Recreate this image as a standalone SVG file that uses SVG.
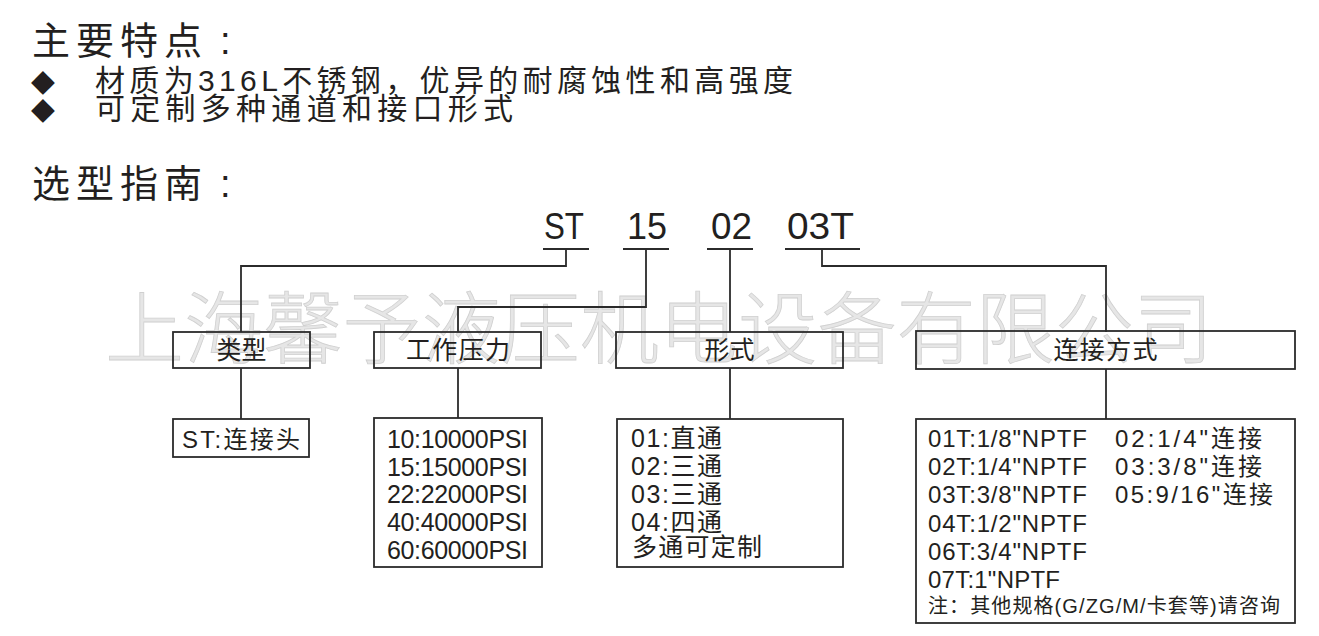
<svg xmlns="http://www.w3.org/2000/svg" width="1319" height="636" viewBox="0 0 1319 636">
<style>
  .t { font-family: "Liberation Sans", "Noto Sans CJK SC", sans-serif; fill: #231f20; }
  .title { font-size: 38px; letter-spacing: 6px; }
  .feat { font-size: 30px; }
  .code { font-size: 36px; }
  .lbl { font-size: 25px; text-anchor: middle; }
  .item { font-size: 25px; }
  .item24 { font-size: 24px; }
  .note { font-size: 20px; }
  .box { fill: none; stroke: #2b2b2b; stroke-width: 1.8; }
  .wire { fill: none; stroke: #2b2b2b; stroke-width: 1.8; }
  .wm { font-family: "Noto Sans CJK SC", sans-serif; font-weight: 300; font-size: 79px; fill: #e6e6e6; stroke: #d0d0d0; stroke-width: 0.8; }
  .bullet { font-family: "DejaVu Sans", sans-serif; font-size: 31px; fill: #231f20; }
</style>
<rect x="0" y="0" width="1319" height="636" fill="#ffffff"/>

<!-- watermark -->
<text id="watermark" class="wm" x="105" y="358" textLength="1108" lengthAdjust="spacing">上海馨予液压机电设备有限公司</text>

<!-- header -->
<g id="header">
  <text class="t title" x="32" y="54">主要特点<tspan x="220">:</tspan></text>
  <text class="bullet" x="31" y="91">◆</text>
  <text class="t feat" x="95" y="91" textLength="698" lengthAdjust="spacing">材质为316L不锈钢，优异的耐腐蚀性和高强度</text>
  <text class="bullet" x="31" y="119">◆</text>
  <text class="t feat" x="95" y="119" textLength="418" lengthAdjust="spacing">可定制多种通道和接口形式</text>
  <text class="t title" x="32" y="197">选型指南<tspan x="220">:</tspan></text>
</g>

<!-- model code -->
<g id="code">
  <text class="t code" x="544" y="239" textLength="40" lengthAdjust="spacingAndGlyphs">ST</text>
  <text class="t code" x="627" y="239" textLength="40" lengthAdjust="spacingAndGlyphs">15</text>
  <text class="t code" x="711" y="239" textLength="41" lengthAdjust="spacingAndGlyphs">02</text>
  <text class="t code" x="787" y="239" textLength="67" lengthAdjust="spacingAndGlyphs">03T</text>
</g>

<!-- connectors -->
<g id="connectors" class="wire">
  <line x1="543" y1="249" x2="589" y2="249"/>
  <line x1="623" y1="249" x2="669" y2="249"/>
  <line x1="707" y1="249" x2="753" y2="249"/>
  <line x1="785" y1="249" x2="860" y2="249"/>
  <polyline points="566,249 566,266 241,266 241,332"/>
  <polyline points="646,249 646,307 458,307 458,332"/>
  <polyline points="730,249 730,332"/>
  <polyline points="822,249 822,266 1106,266 1106,332"/>
  <line x1="241" y1="368" x2="241" y2="419"/>
  <line x1="458" y1="368" x2="458" y2="418"/>
  <line x1="730" y1="368" x2="730" y2="419"/>
  <line x1="1106" y1="369" x2="1106" y2="419"/>
</g>

<!-- row 1 -->
<g id="node-type">
  <rect class="box" x="173" y="332" width="137" height="36"/>
  <text class="t lbl" x="241.5" y="359">类型</text>
</g>
<g id="node-pressure">
  <rect class="box" x="374" y="332" width="167" height="36"/>
  <text class="t lbl" x="458" y="359" textLength="104" lengthAdjust="spacing">工作压力</text>
</g>
<g id="node-form">
  <rect class="box" x="616" y="332" width="227" height="36"/>
  <text class="t lbl" x="729.5" y="359">形式</text>
</g>
<g id="node-connect">
  <rect class="box" x="916" y="331" width="379" height="38"/>
  <text class="t lbl" x="1105.5" y="359" textLength="104" lengthAdjust="spacing">连接方式</text>
</g>

<!-- row 2 -->
<g id="node-type-list">
  <rect class="box" x="173" y="419" width="136" height="38"/>
  <text class="t item24" x="182" y="448" textLength="118" lengthAdjust="spacing">ST:连接头</text>
</g>
<g id="node-pressure-list">
  <rect class="box" x="374" y="418" width="168" height="149"/>
  <text class="t item" x="387" y="448" textLength="141" lengthAdjust="spacing">10:10000PSI</text>
  <text class="t item" x="387" y="476" textLength="141" lengthAdjust="spacing">15:15000PSI</text>
  <text class="t item" x="387" y="503" textLength="141" lengthAdjust="spacing">22:22000PSI</text>
  <text class="t item" x="387" y="531" textLength="141" lengthAdjust="spacing">40:40000PSI</text>
  <text class="t item" x="387" y="559" textLength="141" lengthAdjust="spacing">60:60000PSI</text>
</g>
<g id="node-form-list">
  <rect class="box" x="617" y="419" width="226" height="148"/>
  <text class="t item" x="631" y="447" textLength="91" lengthAdjust="spacing">01:直通</text>
  <text class="t item" x="631" y="475" textLength="91" lengthAdjust="spacing">02:三通</text>
  <text class="t item" x="631" y="503" textLength="91" lengthAdjust="spacing">03:三通</text>
  <text class="t item" x="631" y="531" textLength="91" lengthAdjust="spacing">04:四通</text>
  <text class="t item" x="632" y="556" textLength="130" lengthAdjust="spacing">多通可定制</text>
</g>
<g id="node-connect-list">
  <rect class="box" x="916" y="419" width="379" height="204"/>
  <text class="t item24" x="928" y="447" textLength="159" lengthAdjust="spacing">01T:1/8"NPTF</text>
  <text class="t item24" x="928" y="475" textLength="159" lengthAdjust="spacing">02T:1/4"NPTF</text>
  <text class="t item24" x="928" y="503" textLength="159" lengthAdjust="spacing">03T:3/8"NPTF</text>
  <text class="t item24" x="928" y="532" textLength="159" lengthAdjust="spacing">04T:1/2"NPTF</text>
  <text class="t item24" x="928" y="560" textLength="159" lengthAdjust="spacing">06T:3/4"NPTF</text>
  <text class="t item24" x="928" y="588" textLength="132" lengthAdjust="spacing">07T:1"NPTF</text>
  <text class="t item24" x="1115" y="447" textLength="147" lengthAdjust="spacing">02:1/4"连接</text>
  <text class="t item24" x="1115" y="475" textLength="147" lengthAdjust="spacing">03:3/8"连接</text>
  <text class="t item24" x="1115" y="503" textLength="158" lengthAdjust="spacing">05:9/16"连接</text>
  <text class="t note" x="928" y="613" textLength="352" lengthAdjust="spacing">注：其他规格(G/ZG/M/卡套等)请咨询</text>
</g>
</svg>
